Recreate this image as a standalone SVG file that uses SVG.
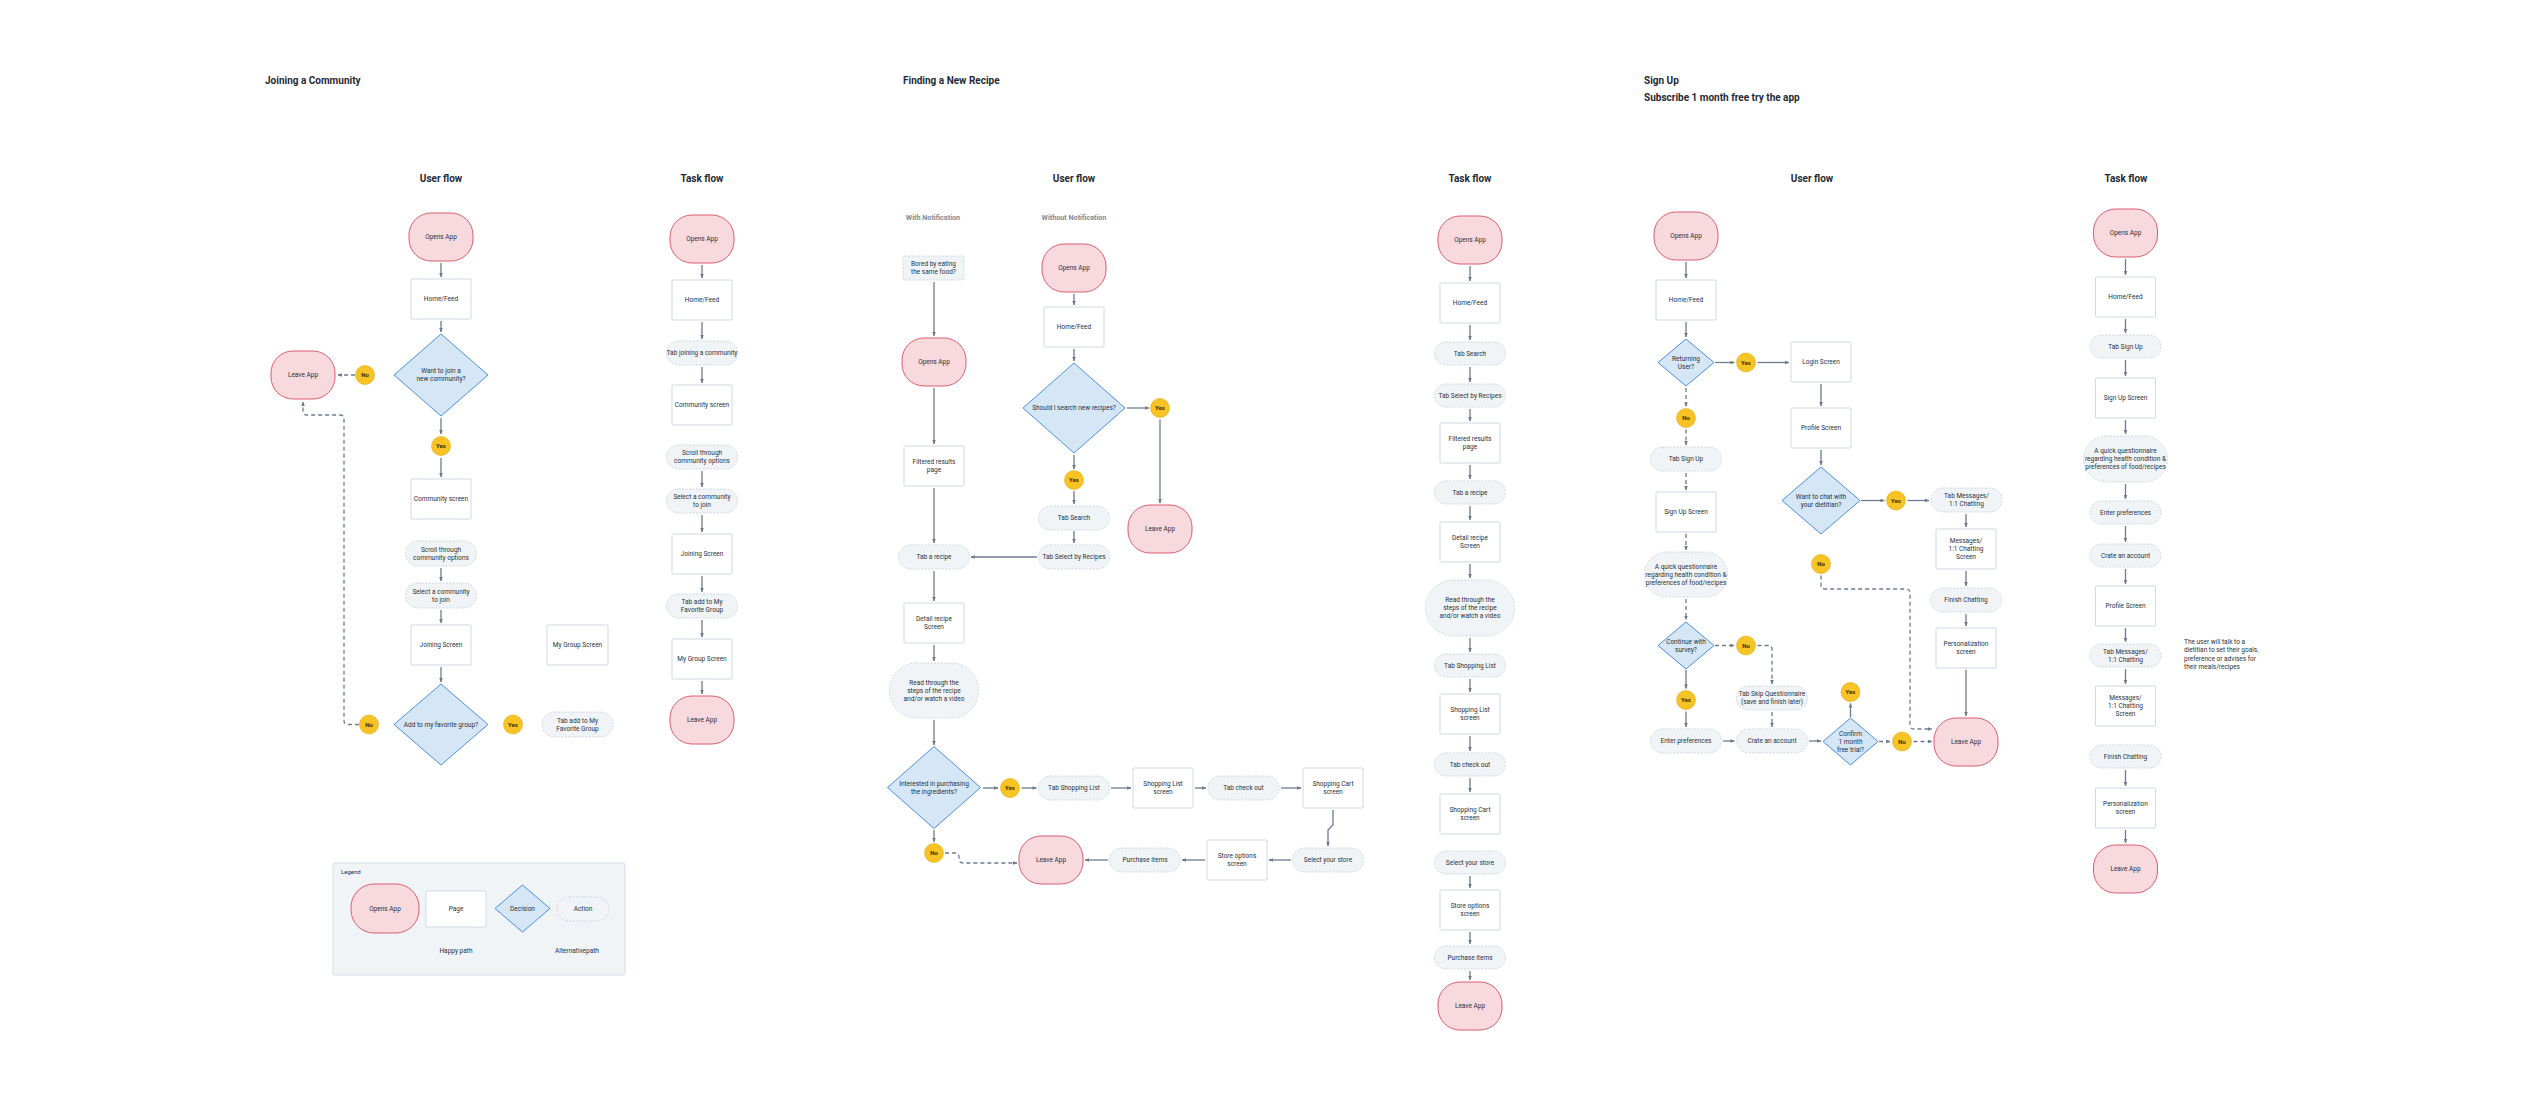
<svg xmlns="http://www.w3.org/2000/svg" width="2524" height="1104" viewBox="0 0 2524 1104">
<style>
text{font-family:Roboto,"Liberation Sans",sans-serif;fill:#27313d}
.t{font-size:6.5px;text-anchor:middle}
.tl{font-size:6.5px;text-anchor:start}
.yn-t{font-size:6px;font-weight:bold;text-anchor:middle;fill:#3a3000}
.h1{font-size:10px;font-weight:bold;fill:#1f2a37}
.h2{font-size:10px;font-weight:bold;fill:#1f2a37;text-anchor:middle}
.h3{font-size:7.2px;font-weight:bold;fill:#7d8b99;text-anchor:middle}
.term{fill:#f8d9de;stroke:#dc5d70;stroke-width:1}
.page{fill:#fff;stroke:#d0d9e3;stroke-width:1}
.dec{fill:#d5e6f7;stroke:#4a90e2;stroke-width:1}
.act{fill:#f1f4f7;stroke:#c5ced8;stroke-width:0.8;stroke-dasharray:2 1.5}
.yn{fill:#f7c325;stroke:#e0ad12;stroke-width:0.6}
.c{fill:none;stroke:#6c7c8e;stroke-width:1.3;marker-end:url(#ah)}
.d{fill:none;stroke:#6c7c8e;stroke-width:1.3;stroke-dasharray:4 3;marker-end:url(#ah)}
</style>
<defs>
<marker id="ah" viewBox="0 0 10 10" refX="9" refY="5" markerWidth="4.5" markerHeight="4.5" markerUnits="userSpaceOnUse" orient="auto"><path d="M0,1 L10,5 L0,9 z" fill="#6c7c8e"/></marker>
</defs>
<rect width="2524" height="1104" fill="#fff"/>

<!-- Headings -->
<text class="h1" x="265" y="84">Joining a Community</text>
<text class="h2" x="441" y="182">User flow</text>
<text class="h2" x="702" y="182">Task flow</text>
<text class="h1" x="903" y="84">Finding a New Recipe</text>
<text class="h2" x="1074" y="182">User flow</text>
<text class="h3" x="933" y="219.5">With Notification</text>
<text class="h3" x="1074" y="219.5">Without Notification</text>
<text class="h2" x="1470" y="182">Task flow</text>
<text class="h1" x="1644" y="84">Sign Up</text>
<text class="h1" x="1644" y="101">Subscribe 1 month free try the app</text>
<text class="h2" x="1812" y="182">User flow</text>
<text class="h2" x="2126" y="182">Task flow</text>

<!-- Connectors -->
<g id="connectors">
<!-- S1 user flow -->
<path class="c" d="M441,263 V277"/>
<path class="c" d="M441,321 V332"/>
<path class="c" d="M441,418 V434"/>
<path class="c" d="M441,458 V477"/>
<path class="c" d="M441,568 V581"/>
<path class="c" d="M441,610 V623"/>
<path class="c" d="M441,667 V682"/>
<path class="d" d="M355,375 H338"/>
<path class="d" d="M359,724.5 H348 Q344,724.5 344,720.5 V419 Q344,415 340,415 H307 Q303,415 303,411 V402"/>
<!-- S1 task flow -->
<path class="c" d="M702,265 V278"/>
<path class="c" d="M702,322 V339"/>
<path class="c" d="M702,367 V383"/>
<path class="c" d="M702,471 V487"/>
<path class="c" d="M702,515 V532"/>
<path class="c" d="M702,576 V592"/>
<path class="c" d="M702,620 V637"/>
<path class="c" d="M702,681 V694"/>
<!-- S2 user flow -->
<path class="c" d="M934,282 V336"/>
<path class="c" d="M934,388 V444"/>
<path class="c" d="M934,488 V543"/>
<path class="c" d="M1037,557 H971"/>
<path class="c" d="M934,571 V601"/>
<path class="c" d="M934,645 V661"/>
<path class="c" d="M934,720 V745"/>
<path class="c" d="M983,788 H998"/>
<path class="c" d="M1021.5,788 H1036.5"/>
<path class="c" d="M1111,788 H1131"/>
<path class="c" d="M1195,788 H1206"/>
<path class="c" d="M1281,788 H1301"/>
<path class="c" d="M1333,810 V825 L1328,830 V846"/>
<path class="c" d="M1291,860 H1269"/>
<path class="c" d="M1205,860 H1182"/>
<path class="c" d="M1108,860 H1085"/>
<path class="c" d="M934,830 V842"/>
<path class="d" d="M945,853 H955 Q959,853 959,857 V859 Q959,863 963,863 H1017"/>
<path class="c" d="M1074,294 V305"/>
<path class="c" d="M1074,349 V361"/>
<path class="c" d="M1074,455 V469"/>
<path class="c" d="M1074,491 V504"/>
<path class="c" d="M1074,531 V543"/>
<path class="c" d="M1127,408 H1149"/>
<path class="c" d="M1160,419.5 V503"/>
<!-- S2 task flow -->
<path class="c" d="M1470,266 V281"/>
<path class="c" d="M1470,325 V340"/>
<path class="c" d="M1470,367 V382"/>
<path class="c" d="M1470,409 V421"/>
<path class="c" d="M1470,465 V479"/>
<path class="c" d="M1470,506 V520"/>
<path class="c" d="M1470,564 V578"/>
<path class="c" d="M1470,638 V652"/>
<path class="c" d="M1470,679 V692"/>
<path class="c" d="M1470,736 V751"/>
<path class="c" d="M1470,778 V792"/>
<path class="c" d="M1470,876 V888"/>
<path class="c" d="M1470,932 V944"/>
<path class="c" d="M1470,971 V980"/>
<!-- S3 user flow -->
<path class="c" d="M1686,262 V278"/>
<path class="c" d="M1686,322 V337"/>
<path class="c" d="M1715,362.5 H1734.5"/>
<path class="c" d="M1757.5,362.5 H1789"/>
<path class="c" d="M1821,384 V406"/>
<path class="c" d="M1821,450 V465"/>
<path class="c" d="M1861,500.5 H1884.5"/>
<path class="c" d="M1907.5,500.5 H1929"/>
<path class="c" d="M1966,514 V527"/>
<path class="c" d="M1966,571 V586"/>
<path class="c" d="M1966,614 V626"/>
<path class="c" d="M1966,670 V716"/>
<path class="d" d="M1686,388 V406.5"/>
<path class="d" d="M1686,429.5 V445"/>
<path class="d" d="M1686,473 V490"/>
<path class="d" d="M1686,534 V550"/>
<path class="d" d="M1686,599 V620"/>
<path class="d" d="M1715,645.5 H1734.5"/>
<path class="d" d="M1757.5,645.5 H1768 Q1772,645.5 1772,649.5 V684"/>
<path class="d" d="M1772,712 V727"/>
<path class="c" d="M1686,670 V688.5"/>
<path class="c" d="M1686,711.5 V727"/>
<path class="c" d="M1723,741 H1734.5"/>
<path class="c" d="M1809,741 H1821"/>
<path class="c" d="M1850.5,717 V703.5"/>
<path class="d" d="M1879,741.5 H1890"/>
<path class="d" d="M1913.5,741.5 H1932"/>
<path class="d" d="M1821,575.5 V585 Q1821,589 1825,589 H1906 Q1910,589 1910,593 V725 Q1910,729 1914,729 H1932"/>
<!-- S3 task flow -->
<path class="c" d="M2125.5,259 V275"/>
<path class="c" d="M2125.5,319 V333"/>
<path class="c" d="M2125.5,360 V376"/>
<path class="c" d="M2125.5,420 V434"/>
<path class="c" d="M2125.5,484 V499"/>
<path class="c" d="M2125.5,526 V542"/>
<path class="c" d="M2125.5,569 V584"/>
<path class="c" d="M2125.5,628 V642"/>
<path class="c" d="M2125.5,669 V684"/>
<path class="c" d="M2125.5,770 V786"/>
<path class="c" d="M2125.5,830 V843"/>
</g>

<!-- ===== Section 1 user flow ===== -->
<g id="uf1-open"><rect class="term" x="409" y="213" width="64" height="48" rx="22"/><text class="t" x="441" y="239.3">Opens App</text></g>
<g id="uf1-home"><rect class="page" x="411" y="279" width="60" height="40" rx="1"/><text class="t" x="441" y="301.3">Home/Feed</text></g>
<g id="uf1-dec1"><polygon class="dec" points="441,334 488,375 441,416 394,375"/><text class="t" x="441" y="377.3"><tspan x="441" dy="-4">Want to join a</tspan><tspan x="441" dy="8">new community?</tspan></text></g>
<g id="uf1-leave"><rect class="term" x="271" y="351" width="64" height="48" rx="22"/><text class="t" x="303" y="377.3">Leave App</text></g>
<g id="uf1-no1"><circle class="yn" cx="365" cy="375" r="9.5"/><text class="yn-t" x="365" y="377.2">No</text></g>
<g id="uf1-yes1"><circle class="yn" cx="441" cy="446" r="9.5"/><text class="yn-t" x="441" y="448.2">Yes</text></g>
<g id="uf1-comm"><rect class="page" x="411" y="479" width="60" height="40" rx="1"/><text class="t" x="441" y="501.3">Community screen</text></g>
<g id="uf1-scroll"><rect class="act" x="405.5" y="541" width="71" height="25" rx="12.5"/><text class="t" x="441" y="555.8"><tspan x="441" dy="-4">Scroll through</tspan><tspan x="441" dy="8">community options</tspan></text></g>
<g id="uf1-select"><rect class="act" x="405.5" y="583" width="71" height="25" rx="12.5"/><text class="t" x="441" y="597.8"><tspan x="441" dy="-4">Select a community</tspan><tspan x="441" dy="8">to join</tspan></text></g>
<g id="uf1-join"><rect class="page" x="411" y="625" width="60" height="40" rx="1"/><text class="t" x="441" y="647.3">Joining Screen</text></g>
<g id="uf1-mygroup"><rect class="page" x="547" y="625" width="61" height="40" rx="1"/><text class="t" x="577.5" y="647.3">My Group Screen</text></g>
<g id="uf1-dec2"><polygon class="dec" points="441,684 488,724.5 441,765 394,724.5"/><text class="t" x="441" y="726.8">Add to my favorite group?</text></g>
<g id="uf1-no2"><circle class="yn" cx="369" cy="724.5" r="9.5"/><text class="yn-t" x="369" y="726.7">No</text></g>
<g id="uf1-yes2"><circle class="yn" cx="513" cy="724.5" r="9.5"/><text class="yn-t" x="513" y="726.7">Yes</text></g>
<g id="uf1-tabadd"><rect class="act" x="542" y="712" width="71" height="25" rx="12.5"/><text class="t" x="577.5" y="726.8"><tspan x="577.5" dy="-4">Tab add to My</tspan><tspan x="577.5" dy="8">Favorite Group</tspan></text></g>

<!-- Legend -->
<g id="legend">
<rect x="333" y="863" width="292" height="112" rx="2" fill="#f1f4f7" stroke="#d5dde5" stroke-width="1"/>
<text class="tl" x="341" y="874" style="font-size:6px">Legend</text>
<rect class="term" x="351" y="884" width="68" height="49" rx="23"/><text class="t" x="385" y="911">Opens App</text>
<rect class="page" x="426" y="891" width="60" height="36" rx="1"/><text class="t" x="456" y="911.3">Page</text>
<polygon class="dec" points="522.5,885 550,908.5 522.5,932 495,908.5"/><text class="t" x="522.5" y="910.8">Decision</text>
<rect class="act" x="557" y="897" width="52" height="24" rx="12"/><text class="t" x="583" y="911.3">Action</text>
<text class="t" x="456" y="953">Happy path</text>
<text class="t" x="577" y="953">Alternativepath</text>
</g>

<!-- ===== Section 1 task flow ===== -->
<g id="tf1-open"><rect class="term" x="670" y="215" width="64" height="48" rx="22"/><text class="t" x="702" y="241.3">Opens App</text></g>
<g id="tf1-home"><rect class="page" x="672" y="280" width="60" height="40" rx="1"/><text class="t" x="702" y="302.3">Home/Feed</text></g>
<g id="tf1-tabjoin"><rect class="act" x="666.5" y="341" width="71" height="24" rx="12"/><text class="t" x="702" y="355.3">Tab joining a community</text></g>
<g id="tf1-comm"><rect class="page" x="672" y="385" width="60" height="40" rx="1"/><text class="t" x="702" y="407.3">Community screen</text></g>
<g id="tf1-scroll"><rect class="act" x="666.5" y="445" width="71" height="24" rx="12"/><text class="t" x="702" y="459.3"><tspan x="702" dy="-4">Scroll through</tspan><tspan x="702" dy="8">community options</tspan></text></g>
<g id="tf1-select"><rect class="act" x="666.5" y="489" width="71" height="24" rx="12"/><text class="t" x="702" y="503.3"><tspan x="702" dy="-4">Select a community</tspan><tspan x="702" dy="8">to join</tspan></text></g>
<g id="tf1-join"><rect class="page" x="672" y="534" width="60" height="40" rx="1"/><text class="t" x="702" y="556.3">Joining Screen</text></g>
<g id="tf1-tabadd"><rect class="act" x="666.5" y="594" width="71" height="24" rx="12"/><text class="t" x="702" y="608.3"><tspan x="702" dy="-4">Tab add to My</tspan><tspan x="702" dy="8">Favorite Group</tspan></text></g>
<g id="tf1-mygroup"><rect class="page" x="672" y="639" width="60" height="40" rx="1"/><text class="t" x="702" y="661.3">My Group Screen</text></g>
<g id="tf1-leave"><rect class="term" x="670" y="696" width="64" height="48" rx="22"/><text class="t" x="702" y="722.3">Leave App</text></g>

<!-- ===== Section 2 user flow ===== -->
<g id="uf2-bored"><rect class="act" x="903" y="256" width="61" height="24" rx="1"/><text class="t" x="933.5" y="270.3"><tspan x="933.5" dy="-4">Bored by eating</tspan><tspan x="933.5" dy="8">the same food?</tspan></text></g>
<g id="uf2-open-a"><rect class="term" x="902" y="338" width="64" height="48" rx="22"/><text class="t" x="934" y="364.3">Opens App</text></g>
<g id="uf2-filtered"><rect class="page" x="904" y="446" width="60" height="40" rx="1"/><text class="t" x="934" y="468.3"><tspan x="934" dy="-4">Filtered results</tspan><tspan x="934" dy="8">page</tspan></text></g>
<g id="uf2-tabrecipe"><rect class="act" x="898.5" y="545" width="71" height="24" rx="12"/><text class="t" x="934" y="559.3">Tab a recipe</text></g>
<g id="uf2-detail"><rect class="page" x="904" y="603" width="60" height="40" rx="1"/><text class="t" x="934" y="625.3"><tspan x="934" dy="-4">Detail recipe</tspan><tspan x="934" dy="8">Screen</tspan></text></g>
<g id="uf2-read"><rect class="act" x="889.5" y="663" width="89" height="55" rx="27"/><text class="t" x="934" y="692.8"><tspan x="934" dy="-8">Read through the</tspan><tspan x="934" dy="8">steps of the recipe</tspan><tspan x="934" dy="8">and/or watch a video</tspan></text></g>
<g id="uf2-dec-buy"><polygon class="dec" points="934,746.5 980.5,787.5 934,828.5 887.5,787.5"/><text class="t" x="934" y="789.8"><tspan x="934" dy="-4">Interested in purchasing</tspan><tspan x="934" dy="8">the ingredients?</tspan></text></g>
<g id="uf2-yes-buy"><circle class="yn" cx="1010" cy="788" r="9.5"/><text class="yn-t" x="1010" y="790.2">Yes</text></g>
<g id="uf2-tabshop"><rect class="act" x="1038.5" y="776" width="71" height="24" rx="12"/><text class="t" x="1074" y="790.3">Tab Shopping List</text></g>
<g id="uf2-shoplist"><rect class="page" x="1133" y="768" width="60" height="40" rx="1"/><text class="t" x="1163" y="790.3"><tspan x="1163" dy="-4">Shopping List</tspan><tspan x="1163" dy="8">screen</tspan></text></g>
<g id="uf2-checkout"><rect class="act" x="1208" y="776" width="71" height="24" rx="12"/><text class="t" x="1243.5" y="790.3">Tab check out</text></g>
<g id="uf2-cart"><rect class="page" x="1303" y="768" width="60" height="40" rx="1"/><text class="t" x="1333" y="790.3"><tspan x="1333" dy="-4">Shopping Cart</tspan><tspan x="1333" dy="8">screen</tspan></text></g>
<g id="uf2-selectstore"><rect class="act" x="1292.5" y="848" width="71" height="24" rx="12"/><text class="t" x="1328" y="862.3">Select your store</text></g>
<g id="uf2-storeopt"><rect class="page" x="1207" y="840" width="60" height="40" rx="1"/><text class="t" x="1237" y="862.3"><tspan x="1237" dy="-4">Store options</tspan><tspan x="1237" dy="8">screen</tspan></text></g>
<g id="uf2-purchase"><rect class="act" x="1109.5" y="848" width="71" height="24" rx="12"/><text class="t" x="1145" y="862.3">Purchase items</text></g>
<g id="uf2-leave-a"><rect class="term" x="1019" y="836" width="64" height="48" rx="22"/><text class="t" x="1051" y="862.3">Leave App</text></g>
<g id="uf2-no-buy"><circle class="yn" cx="934" cy="853" r="9.5"/><text class="yn-t" x="934" y="855.2">No</text></g>
<g id="uf2-open-b"><rect class="term" x="1042" y="244" width="64" height="48" rx="22"/><text class="t" x="1074" y="270.3">Opens App</text></g>
<g id="uf2-home"><rect class="page" x="1044" y="307" width="60" height="40" rx="1"/><text class="t" x="1074" y="329.3">Home/Feed</text></g>
<g id="uf2-dec-search"><polygon class="dec" points="1074,363 1125,408 1074,453 1023,408"/><text class="t" x="1074" y="410.3">Should I search new recipes?</text></g>
<g id="uf2-yes-search"><circle class="yn" cx="1074" cy="480" r="9.5"/><text class="yn-t" x="1074" y="482.2">Yes</text></g>
<g id="uf2-tabsearch"><rect class="act" x="1038.5" y="506" width="71" height="24" rx="12"/><text class="t" x="1074" y="520.3">Tab Search</text></g>
<g id="uf2-tabselect"><rect class="act" x="1038.5" y="545" width="71" height="24" rx="12"/><text class="t" x="1074" y="559.3">Tab Select by Recipes</text></g>
<g id="uf2-yes-right"><circle class="yn" cx="1160" cy="408" r="9.5"/><text class="yn-t" x="1160" y="410.2">Yes</text></g>
<g id="uf2-leave-b"><rect class="term" x="1128" y="505" width="64" height="48" rx="22"/><text class="t" x="1160" y="531.3">Leave App</text></g>

<!-- ===== Section 2 task flow ===== -->
<g id="tf2-open"><rect class="term" x="1438" y="216" width="64" height="48" rx="22"/><text class="t" x="1470" y="242.3">Opens App</text></g>
<g id="tf2-home"><rect class="page" x="1440" y="283" width="60" height="40" rx="1"/><text class="t" x="1470" y="305.3">Home/Feed</text></g>
<g id="tf2-tabsearch"><rect class="act" x="1434.5" y="342" width="71" height="23" rx="11.5"/><text class="t" x="1470" y="355.8">Tab Search</text></g>
<g id="tf2-tabselect"><rect class="act" x="1434.5" y="384" width="71" height="23" rx="11.5"/><text class="t" x="1470" y="397.8">Tab Select by Recipes</text></g>
<g id="tf2-filtered"><rect class="page" x="1440" y="423" width="60" height="40" rx="1"/><text class="t" x="1470" y="445.3"><tspan x="1470" dy="-4">Filtered results</tspan><tspan x="1470" dy="8">page</tspan></text></g>
<g id="tf2-tabrecipe"><rect class="act" x="1434.5" y="481" width="71" height="23" rx="11.5"/><text class="t" x="1470" y="494.8">Tab a recipe</text></g>
<g id="tf2-detail"><rect class="page" x="1440" y="522" width="60" height="40" rx="1"/><text class="t" x="1470" y="544.3"><tspan x="1470" dy="-4">Detail recipe</tspan><tspan x="1470" dy="8">Screen</tspan></text></g>
<g id="tf2-read"><rect class="act" x="1425.5" y="580" width="89" height="56" rx="28"/><text class="t" x="1470" y="610.3"><tspan x="1470" dy="-8">Read through the</tspan><tspan x="1470" dy="8">steps of the recipe</tspan><tspan x="1470" dy="8">and/or watch a video</tspan></text></g>
<g id="tf2-tabshop"><rect class="act" x="1434.5" y="654" width="71" height="23" rx="11.5"/><text class="t" x="1470" y="667.8">Tab Shopping List</text></g>
<g id="tf2-shoplist"><rect class="page" x="1440" y="694" width="60" height="40" rx="1"/><text class="t" x="1470" y="716.3"><tspan x="1470" dy="-4">Shopping List</tspan><tspan x="1470" dy="8">screen</tspan></text></g>
<g id="tf2-checkout"><rect class="act" x="1434.5" y="753" width="71" height="23" rx="11.5"/><text class="t" x="1470" y="766.8">Tab check out</text></g>
<g id="tf2-cart"><rect class="page" x="1440" y="794" width="60" height="40" rx="1"/><text class="t" x="1470" y="816.3"><tspan x="1470" dy="-4">Shopping Cart</tspan><tspan x="1470" dy="8">screen</tspan></text></g>
<g id="tf2-selectstore"><rect class="act" x="1434.5" y="851" width="71" height="23" rx="11.5"/><text class="t" x="1470" y="864.8">Select your store</text></g>
<g id="tf2-storeopt"><rect class="page" x="1440" y="890" width="60" height="40" rx="1"/><text class="t" x="1470" y="912.3"><tspan x="1470" dy="-4">Store options</tspan><tspan x="1470" dy="8">screen</tspan></text></g>
<g id="tf2-purchase"><rect class="act" x="1434.5" y="946" width="71" height="23" rx="11.5"/><text class="t" x="1470" y="959.8">Purchase items</text></g>
<g id="tf2-leave"><rect class="term" x="1438" y="982" width="64" height="48" rx="22"/><text class="t" x="1470" y="1008.3">Leave App</text></g>

<!-- ===== Section 3 user flow ===== -->
<g id="uf3-open"><rect class="term" x="1654" y="212" width="64" height="48" rx="22"/><text class="t" x="1686" y="238.3">Opens App</text></g>
<g id="uf3-home"><rect class="page" x="1656" y="280" width="60" height="40" rx="1"/><text class="t" x="1686" y="302.3">Home/Feed</text></g>
<g id="uf3-dec-return"><polygon class="dec" points="1686,339 1714,362.5 1686,386 1658,362.5"/><text class="t" x="1686" y="364.8"><tspan x="1686" dy="-4">Returning</tspan><tspan x="1686" dy="8">User?</tspan></text></g>
<g id="uf3-yes-return"><circle class="yn" cx="1746" cy="362.5" r="9.5"/><text class="yn-t" x="1746" y="364.7">Yes</text></g>
<g id="uf3-login"><rect class="page" x="1791" y="342" width="60" height="40" rx="1"/><text class="t" x="1821" y="364.3">Login Screen</text></g>
<g id="uf3-profile"><rect class="page" x="1791" y="408" width="60" height="40" rx="1"/><text class="t" x="1821" y="430.3">Profile Screen</text></g>
<g id="uf3-dec-chat"><polygon class="dec" points="1821,467 1860,500.5 1821,534 1782,500.5"/><text class="t" x="1821" y="502.8"><tspan x="1821" dy="-4">Want to chat with</tspan><tspan x="1821" dy="8">your dietitian?</tspan></text></g>
<g id="uf3-yes-chat"><circle class="yn" cx="1896" cy="500.5" r="9.5"/><text class="yn-t" x="1896" y="502.7">Yes</text></g>
<g id="uf3-tabmsg"><rect class="act" x="1931" y="488" width="71" height="24" rx="12"/><text class="t" x="1966.5" y="502.3"><tspan x="1966.5" dy="-4">Tab Messages/</tspan><tspan x="1966.5" dy="8">1:1 Chatting</tspan></text></g>
<g id="uf3-msgscreen"><rect class="page" x="1936" y="529" width="60" height="40" rx="1"/><text class="t" x="1966" y="551.3"><tspan x="1966" dy="-8">Messages/</tspan><tspan x="1966" dy="8">1:1 Chatting</tspan><tspan x="1966" dy="8">Screen</tspan></text></g>
<g id="uf3-finish"><rect class="act" x="1930.5" y="588" width="71" height="24" rx="12"/><text class="t" x="1966" y="602.3">Finish Chatting</text></g>
<g id="uf3-personal"><rect class="page" x="1936" y="628" width="60" height="40" rx="1"/><text class="t" x="1966" y="650.3"><tspan x="1966" dy="-4">Personalization</tspan><tspan x="1966" dy="8">screen</tspan></text></g>
<g id="uf3-leave"><rect class="term" x="1934" y="718" width="64" height="48" rx="22"/><text class="t" x="1966" y="744.3">Leave App</text></g>
<g id="uf3-no-chat"><circle class="yn" cx="1821" cy="564" r="9.5"/><text class="yn-t" x="1821" y="566.2">No</text></g>
<g id="uf3-no-return"><circle class="yn" cx="1686" cy="418" r="9.5"/><text class="yn-t" x="1686" y="420.2">No</text></g>
<g id="uf3-tabsignup"><rect class="act" x="1650.5" y="447" width="71" height="24" rx="12"/><text class="t" x="1686" y="461.3">Tab Sign Up</text></g>
<g id="uf3-signupscreen"><rect class="page" x="1656" y="492" width="60" height="40" rx="1"/><text class="t" x="1686" y="514.3">Sign Up Screen</text></g>
<g id="uf3-quest"><rect class="act" x="1644.5" y="552" width="83" height="45" rx="22"/><text class="t" x="1686" y="576.8"><tspan x="1686" dy="-8">A quick questionnaire</tspan><tspan x="1686" dy="8">regarding health condition &amp;</tspan><tspan x="1686" dy="8">preferences of food/recipes</tspan></text></g>
<g id="uf3-dec-survey"><polygon class="dec" points="1686,622 1714,645.5 1686,669 1658,645.5"/><text class="t" x="1686" y="647.8"><tspan x="1686" dy="-4">Continue with</tspan><tspan x="1686" dy="8">survey?</tspan></text></g>
<g id="uf3-no-survey"><circle class="yn" cx="1746" cy="645.5" r="9.5"/><text class="yn-t" x="1746" y="647.7">No</text></g>
<g id="uf3-tabskip"><rect class="act" x="1736.5" y="686" width="71" height="24" rx="12"/><text class="t" x="1772" y="700.3"><tspan x="1772" dy="-4">Tab Skip Questionnaire</tspan><tspan x="1772" dy="8">(save and finish later)</tspan></text></g>
<g id="uf3-yes-survey"><circle class="yn" cx="1686" cy="700" r="9.5"/><text class="yn-t" x="1686" y="702.2">Yes</text></g>
<g id="uf3-enterpref"><rect class="act" x="1650.5" y="729" width="71" height="24" rx="12"/><text class="t" x="1686" y="743.3">Enter preferences</text></g>
<g id="uf3-crate"><rect class="act" x="1736.5" y="729" width="71" height="24" rx="12"/><text class="t" x="1772" y="743.3">Crate an account</text></g>
<g id="uf3-dec-trial"><polygon class="dec" points="1850.5,718 1878,741.5 1850.5,765 1823,741.5"/><text class="t" x="1850.5" y="743.8"><tspan x="1850.5" dy="-8">Confirm</tspan><tspan x="1850.5" dy="8">1 month</tspan><tspan x="1850.5" dy="8">free trial?</tspan></text></g>
<g id="uf3-yes-trial"><circle class="yn" cx="1850.5" cy="692" r="9.5"/><text class="yn-t" x="1850.5" y="694.2">Yes</text></g>
<g id="uf3-no-trial"><circle class="yn" cx="1902" cy="741.5" r="9.5"/><text class="yn-t" x="1902" y="743.7">No</text></g>

<!-- ===== Section 3 task flow ===== -->
<g id="tf3-open"><rect class="term" x="2093.5" y="209" width="64" height="48" rx="22"/><text class="t" x="2125.5" y="235.3">Opens App</text></g>
<g id="tf3-home"><rect class="page" x="2095.5" y="277" width="60" height="40" rx="1"/><text class="t" x="2125.5" y="299.3">Home/Feed</text></g>
<g id="tf3-tabsignup"><rect class="act" x="2090" y="335" width="71" height="23" rx="11.5"/><text class="t" x="2125.5" y="348.8">Tab Sign Up</text></g>
<g id="tf3-signupscreen"><rect class="page" x="2095.5" y="378" width="60" height="40" rx="1"/><text class="t" x="2125.5" y="400.3">Sign Up Screen</text></g>
<g id="tf3-quest"><rect class="act" x="2083.5" y="436" width="84" height="46" rx="23"/><text class="t" x="2125.5" y="461.3"><tspan x="2125.5" dy="-8">A quick questionnaire</tspan><tspan x="2125.5" dy="8">regarding health condition &amp;</tspan><tspan x="2125.5" dy="8">preferences of food/recipes</tspan></text></g>
<g id="tf3-enterpref"><rect class="act" x="2090" y="501" width="71" height="23" rx="11.5"/><text class="t" x="2125.5" y="514.8">Enter preferences</text></g>
<g id="tf3-crate"><rect class="act" x="2090" y="544" width="71" height="23" rx="11.5"/><text class="t" x="2125.5" y="557.8">Crate an account</text></g>
<g id="tf3-profile"><rect class="page" x="2095.5" y="586" width="60" height="40" rx="1"/><text class="t" x="2125.5" y="608.3">Profile Screen</text></g>
<g id="tf3-tabmsg"><rect class="act" x="2090" y="644" width="71" height="23" rx="11.5"/><text class="t" x="2125.5" y="657.8"><tspan x="2125.5" dy="-4">Tab Messages/</tspan><tspan x="2125.5" dy="8">1:1 Chatting</tspan></text></g>
<g id="tf3-msgscreen"><rect class="page" x="2095.5" y="686" width="60" height="40" rx="1"/><text class="t" x="2125.5" y="708.3"><tspan x="2125.5" dy="-8">Messages/</tspan><tspan x="2125.5" dy="8">1:1 Chatting</tspan><tspan x="2125.5" dy="8">Screen</tspan></text></g>
<g id="tf3-finish"><rect class="act" x="2090" y="745" width="71" height="23" rx="11.5"/><text class="t" x="2125.5" y="758.8">Finish Chatting</text></g>
<g id="tf3-personal"><rect class="page" x="2095.5" y="788" width="60" height="40" rx="1"/><text class="t" x="2125.5" y="810.3"><tspan x="2125.5" dy="-4">Personalization</tspan><tspan x="2125.5" dy="8">screen</tspan></text></g>
<g id="tf3-leave"><rect class="term" x="2093.5" y="845" width="64" height="48" rx="22"/><text class="t" x="2125.5" y="871.3">Leave App</text></g>
<g id="tf3-note"><text class="tl" x="2184" y="644"><tspan x="2184" dy="0">The user will talk to a</tspan><tspan x="2184" dy="8.3">dietitian to set their goals,</tspan><tspan x="2184" dy="8.3">preference or advises for</tspan><tspan x="2184" dy="8.3">their meals/recipes</tspan></text></g>
</svg>
